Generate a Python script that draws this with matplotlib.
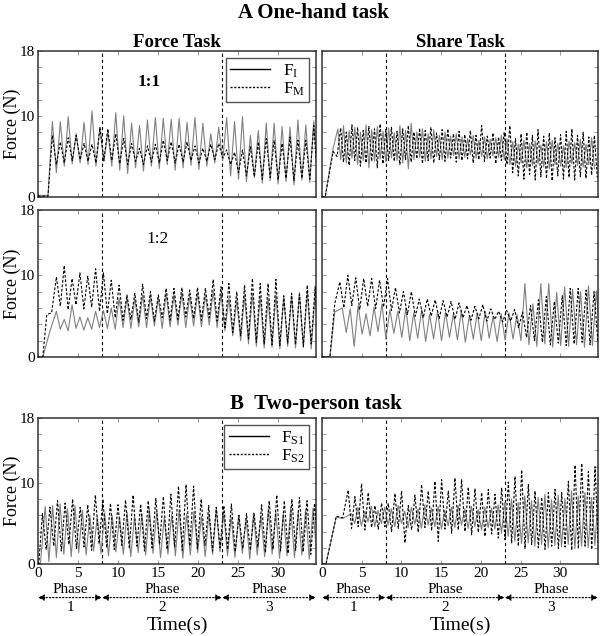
import numpy as np
import matplotlib
matplotlib.use("Agg")
import matplotlib.pyplot as plt
from matplotlib.lines import Line2D

plt.rcParams['font.family'] = ['Liberation Serif', 'DejaVu Serif']
plt.rcParams['mathtext.fontset'] = 'custom'
plt.rcParams['mathtext.rm'] = 'Liberation Serif'
plt.rcParams['mathtext.it'] = 'Liberation Serif:italic'

# ---------------- data ----------------
phase_bounds = [0, 8, 23, 34.75]
phase_labels = ["1", "2", "3"]
x_ticks = [0, 5, 10, 15, 20, 25, 30]
y_ticks = [0, 10, 18]

# Panel A, Force Task, 1:1
a_force_I_ramp_t = [0.0, 1.25]
a_force_I_ramp_v = [0.2, 0.2]
a_force_I_start, a_force_I_period = 1.8, 0.99
a_force_I_peaks = [9.3, 9.3, 9.9, 7.8, 9.2, 10.6, 8.6, 8.0, 10.4, 10.0, 9.1, 8.8, 9.5, 9.8, 9.7, 9.6, 9.7,
                   9.2, 9.8, 9.1, 7.8, 8.6, 9.8, 9.3, 9.9, 7.6, 8.2, 9.1, 9.1, 8.7, 8.6, 9.5, 8.9, 9.4]
a_force_I_troughs = [3.0, 3.8, 4.1, 4.2, 4.0, 3.8, 4.4, 3.8, 3.3, 2.9, 3.6, 3.2, 3.8, 3.5, 4.0, 3.3, 3.6,
                     3.9, 3.4, 3.8, 4.2, 4.5, 2.6, 2.2, 1.9, 2.4, 1.7, 2.0, 1.6, 1.9, 1.5, 2.1, 1.8, 2.0]
a_force_M_ramp_t = [0.0, 1.25]
a_force_M_ramp_v = [0.1, 0.1]
a_force_M_start, a_force_M_period = 1.8, 0.99
a_force_M_peaks = [7.6, 6.8, 7.3, 7.6, 6.6, 6.5, 8.6, 8.4, 7.8, 7.2, 6.6, 6.0, 6.3, 6.5, 7.0, 6.8, 6.5,
                   6.8, 6.3, 6.0, 6.5, 6.6, 5.8, 5.5, 5.8, 6.2, 6.8, 7.2, 7.0, 6.6, 7.4, 7.0, 7.0, 8.8]
a_force_M_troughs = [4.0, 4.2, 4.5, 4.6, 4.4, 4.2, 4.5, 4.5, 4.1, 4.0, 4.4, 4.0, 4.3, 4.2, 4.5, 4.2, 4.3,
                     4.5, 4.2, 4.4, 4.6, 4.8, 4.0, 3.0, 2.6, 2.5, 2.2, 2.4, 2.1, 2.3, 2.0, 2.3, 2.2, 2.2]

# Panel A, Share Task, 1:1
a_share_I_ramp_t = [0.0, 0.4, 1.4]
a_share_I_ramp_v = [0.0, 0.0, 6.0]
a_share_I_start, a_share_I_period = 2.0, 0.71
a_share_I_peaks = [8.4, 8.8, 8.2, 8.6, 8.0, 8.9, 8.3, 8.7, 8.1,
                   8.5, 7.9, 8.8, 8.2, 9.1, 8.0, 8.4, 7.8, 8.3, 7.6, 8.0, 7.5, 7.8, 7.4, 7.2, 7.6, 7.0,
                   7.4, 7.1, 7.3, 7.6,
                   7.2, 6.8, 6.5, 7.0, 6.6, 6.9, 6.4, 6.8, 7.0, 6.6, 6.3, 6.9, 6.7, 7.1, 6.5, 7.3]
a_share_I_troughs = [4.6, 4.2, 4.8, 4.0, 4.5, 3.6, 4.4, 4.7, 4.3,
                     4.8, 4.5, 4.2, 3.5, 4.6, 4.9, 4.4, 4.7, 5.0, 4.6, 4.8, 5.1, 4.7, 4.9, 5.2, 4.8,
                     5.0, 4.7, 5.1, 4.9, 4.6,
                     4.0, 3.8, 4.2, 3.6, 3.9, 4.1, 3.7, 3.5, 4.0, 3.8, 3.6, 4.1, 3.9, 3.7, 4.0, 3.5]
a_share_M_ramp_t = [0.0, 0.4, 1.4, 1.9]
a_share_M_ramp_v = [0.0, 0.0, 5.6, 5.0]
a_share_M_start, a_share_M_period = 2.35, 0.71
a_share_M_peaks = [8.5, 8.0, 8.9, 8.6, 8.2, 8.7, 8.4, 9.0, 8.3,
                   8.6, 8.1, 8.4, 8.8, 8.0, 8.5, 8.2, 8.6, 7.9, 8.3, 8.4, 7.8, 8.1, 7.7, 8.2, 7.6,
                   8.8, 7.5, 7.9, 7.4, 8.0,
                   8.8, 7.2, 7.8, 8.0, 7.6, 8.3, 7.5, 7.9, 7.3, 7.7, 8.1, 8.4, 7.6, 8.0, 7.4, 7.6]
a_share_M_troughs = [4.3, 3.9, 4.5, 3.8, 4.2, 4.4, 3.6, 4.1, 4.5,
                     4.4, 4.0, 4.6, 4.3, 4.7, 4.1, 4.5, 4.2, 4.6, 4.4, 4.8, 4.3, 4.5, 4.7, 4.2, 4.6,
                     4.4, 4.8, 4.1, 4.5, 4.0,
                     3.0, 2.6, 2.2, 2.8, 2.1, 2.5, 2.3, 2.0, 2.6, 2.2, 2.4, 2.1, 2.5, 2.3, 2.7, 2.4]

# Panel A, Force Task, 1:2
b_force_I_ramp_t = [0.0, 0.6, 1.5]
b_force_I_ramp_v = [0.0, 0.0, 3.2]
b_force_I_start, b_force_I_period = 2.3, 0.98
b_force_I_peaks = [5.6, 4.6, 6.4, 4.9, 4.8, 5.6, 5.7, 6.0, 7.2, 7.3, 7.1, 7.6, 7.4, 7.2, 7.8, 7.6, 7.9,
                   7.5, 7.8, 7.6, 8.1, 7.8, 7.2, 7.0, 7.6, 7.8, 7.4, 7.2, 7.6, 7.3, 7.5, 7.9, 8.0, 7.6]
b_force_I_troughs = [3.4, 3.2, 3.5, 3.3, 3.4, 3.6, 3.5, 3.4, 3.6, 3.5, 3.7, 3.6, 3.8, 3.5, 3.7, 3.9, 3.6,
                     3.8, 3.7, 3.9, 3.6, 3.2, 2.6, 2.0, 1.6, 1.3, 1.1, 1.2, 1.0, 1.3, 1.1, 1.2, 1.0, 1.4]
b_force_M_ramp_t = [0.0, 0.6, 1.1, 1.7]
b_force_M_ramp_v = [0.0, 0.0, 5.2, 5.4]
b_force_M_start, b_force_M_period = 2.3, 0.98
b_force_M_peaks = [9.8, 11.2, 9.6, 10.3, 9.9, 10.8, 10.3, 9.4, 8.8, 7.6, 7.8, 8.9, 8.0, 7.6, 8.4, 8.4, 8.5,
                   8.2, 8.5, 8.4, 9.5, 8.6, 9.0, 8.0, 8.8, 9.6, 9.0, 9.0, 9.5, 7.5, 7.8, 7.7, 8.8, 8.6]
b_force_M_troughs = [6.2, 5.8, 6.4, 5.9, 6.1, 5.6, 5.3, 4.8, 4.5, 4.6, 4.3, 4.7, 4.4, 4.8, 4.5, 4.6, 4.9,
                     4.7, 4.5, 4.8, 4.4, 3.6, 3.0, 2.6, 2.2, 1.8, 1.6, 1.5, 1.4, 1.7, 1.5, 1.3, 1.6, 1.5]

# Panel A, Share Task, 1:2
b_share_I_ramp_t = [0.0, 1.0, 1.6]
b_share_I_ramp_v = [0.0, 0.0, 5.5]
b_share_I_start, b_share_I_period = 2.55, 1.0
b_share_I_peaks = [6.0, 5.9, 6.3, 5.3, 6.1, 6.5, 5.8, 5.6, 6.0, 5.4, 5.8, 5.2, 5.6, 5.5, 5.3, 5.7, 5.1,
                   5.4, 5.6, 5.0, 5.3, 5.4, 5.2, 9.0, 6.5, 9.0, 9.0, 7.9, 8.6, 8.3, 8.0, 8.7, 8.1]
b_share_I_troughs = [3.0, 1.3, 2.8, 2.6, 3.1, 2.2, 2.9, 2.4, 2.0, 2.3, 1.9, 2.2, 2.0, 2.4, 2.1, 1.8, 2.2,
                     2.0, 2.3, 1.9, 2.1, 2.2, 2.0, 1.5, 1.3, 1.6, 1.2, 1.4, 1.3, 1.5, 1.2, 1.4, 1.6]
b_share_M_ramp_t = [0.0, 1.0, 1.6]
b_share_M_ramp_v = [0.0, 0.0, 6.5]
b_share_M_start, b_share_M_period = 2.25, 1.0
b_share_M_peaks = [9.2, 10.0, 9.7, 9.6, 9.6, 9.4, 9.6, 8.5, 8.0, 8.0, 7.1, 7.1, 7.0, 6.9, 6.8, 6.6, 6.3,
                   6.2, 6.4, 5.9, 5.6, 5.7, 5.8, 5.5, 6.3, 7.0, 7.4, 6.8, 7.5, 8.4, 8.4, 8.2, 8.0]
b_share_M_troughs = [6.0, 6.3, 5.8, 6.2, 5.9, 6.1, 5.7, 5.4, 5.2, 5.0, 4.8, 5.0, 4.7, 4.9, 4.6, 4.8, 4.5,
                     4.7, 4.4, 4.6, 4.3, 4.4, 3.6, 2.4, 2.0, 1.8, 1.5, 1.7, 1.4, 1.6, 1.8, 1.5, 1.7]

# Panel B, Force Task (two persons)
c_force_S1_ramp_t = [0.0, 0.3]
c_force_S1_ramp_v = [0.0, 0.0]
c_force_S1_start, c_force_S1_period = 0.9, 0.93
c_force_S1_peaks = [7.1, 7.2, 7.4, 6.8, 7.2, 6.6, 6.0, 5.8, 6.3, 6.0, 5.8, 6.4, 5.8, 6.2, 6.8, 6.5, 5.7,
                    6.1, 6.7, 6.2, 6.5, 5.9, 6.2, 6.8, 6.3, 5.8, 6.0, 5.6, 6.3, 6.0, 6.8, 6.4, 6.2, 7.0,
                    6.5, 6.7, 6.9]
c_force_S1_troughs = [0.3, 0.8, 1.2, 0.9, 1.4, 1.1, 1.6, 1.3, 1.0, 1.5, 1.2, 0.9, 1.4, 1.1, 1.3, 0.8, 1.2,
                      1.0, 0.7, 1.1, 1.4, 0.9, 1.2, 1.5, 1.0, 0.8, 1.3, 0.6, 1.1, 0.9, 1.2, 0.7, 1.0, 0.8,
                      1.1, 0.6, 0.9]
c_force_S2_ramp_t = [0.0, 0.1]
c_force_S2_ramp_v = [0.0, 0.0]
c_force_S2_start, c_force_S2_period = 0.55, 0.945
c_force_S2_peaks = [6.2, 7.0, 7.8, 7.5, 8.0, 7.0, 7.3, 8.5,
                    8.0, 7.5, 7.3, 7.9, 8.5, 7.4, 7.8, 8.1, 8.3, 8.6, 9.6, 9.8, 9.6, 8.0, 7.2, 7.0,
                    7.2, 7.4, 6.0, 6.2, 6.2, 7.3, 7.8, 8.5, 7.8, 8.0, 8.2, 7.8, 7.5]
c_force_S2_troughs = [1.8, 2.2, 1.6, 2.4, 1.9, 2.1, 1.7, 2.5, 2.0, 1.8, 2.3, 1.9, 2.2, 1.6, 2.0, 2.4, 1.8,
                      2.1, 1.7, 2.2, 1.9, 2.3, 1.6, 2.0, 1.8, 1.5, 1.9, 1.7, 2.1, 1.4, 1.8, 1.6, 1.3, 1.7,
                      1.5, 1.2, 1.6]

# Panel B, Share Task (two persons)
c_share_S1_ramp_t = [0.0, 0.5, 1.8, 2.6]
c_share_S1_ramp_v = [0.0, 0.0, 5.8, 5.6]
c_share_S1_start, c_share_S1_period = 3.7, 0.84
c_share_S1_peaks = [6.2, 7.0, 6.5, 7.1, 6.6, 7.0,
                    6.8, 7.2, 6.5, 7.0, 6.8, 7.3, 6.9, 7.1, 6.6, 7.0, 7.2, 6.8, 7.1, 6.7, 7.0, 6.9,
                    7.3, 7.6,
                    8.0, 7.6, 8.4, 7.8, 8.2, 8.6, 7.9, 8.5, 8.1, 9.0, 8.4, 8.8, 8.2, 8.6]
c_share_S1_troughs = [5.0, 4.7, 5.2, 4.6, 5.0, 4.8,
                      4.6, 5.0, 4.5, 4.9, 4.4, 4.8, 4.6, 4.3, 4.7, 4.5, 4.8, 4.4, 4.6, 4.2, 4.5, 4.3,
                      3.8, 3.4,
                      2.8, 2.5, 2.6, 2.2, 2.4, 2.0, 2.3, 2.1, 2.4, 1.9, 2.2, 2.0, 2.3, 2.1]
c_share_S2_ramp_t = [0.0, 0.5, 1.8, 2.6]
c_share_S2_ramp_v = [0.0, 0.0, 5.9, 5.7]
c_share_S2_start, c_share_S2_period = 3.3, 0.84
c_share_S2_peaks = [9.1, 8.3, 9.9, 8.8, 7.2, 7.5,
                    7.5, 8.7, 9.0, 7.2, 8.5, 9.8, 9.0, 10.2, 10.4, 9.0, 10.6, 10.4, 9.5, 9.3, 8.8,
                    9.2, 8.6, 9.4,
                    10.1, 10.8, 11.6, 9.8, 9.0, 8.2, 8.8, 9.2, 8.8, 10.2, 12.2, 12.4, 11.4, 12.0]
c_share_S2_troughs = [4.4, 4.6, 4.2, 4.5, 4.3, 4.6,
                      4.0, 4.4, 2.6, 4.2, 3.9, 4.5, 4.1, 2.8, 4.3, 3.8, 4.2, 4.0, 3.6, 3.9, 3.4, 3.7,
                      3.2, 3.0,
                      2.6, 2.2, 1.9, 2.4, 2.0, 1.8, 2.2, 1.9, 2.1, 1.7, 1.9, 2.2, 1.8, 2.0]


def trace(ramp_t, ramp_v, start, period, peaks, troughs):
    t = list(ramp_t)
    v = list(ramp_v)
    n = min(len(peaks), len(troughs))
    for k in range(n):
        t.append(start + k * period)
        v.append(peaks[k])
        t.append(start + (k + 0.5) * period)
        v.append(troughs[k])
    return np.array(t), np.array(v)


panels = [
    [(a_force_I_ramp_t, a_force_I_ramp_v, a_force_I_start, a_force_I_period, a_force_I_peaks, a_force_I_troughs),
     (a_force_M_ramp_t, a_force_M_ramp_v, a_force_M_start, a_force_M_period, a_force_M_peaks, a_force_M_troughs)],
    [(a_share_I_ramp_t, a_share_I_ramp_v, a_share_I_start, a_share_I_period, a_share_I_peaks, a_share_I_troughs),
     (a_share_M_ramp_t, a_share_M_ramp_v, a_share_M_start, a_share_M_period, a_share_M_peaks, a_share_M_troughs)],
    [(b_force_I_ramp_t, b_force_I_ramp_v, b_force_I_start, b_force_I_period, b_force_I_peaks, b_force_I_troughs),
     (b_force_M_ramp_t, b_force_M_ramp_v, b_force_M_start, b_force_M_period, b_force_M_peaks, b_force_M_troughs)],
    [(b_share_I_ramp_t, b_share_I_ramp_v, b_share_I_start, b_share_I_period, b_share_I_peaks, b_share_I_troughs),
     (b_share_M_ramp_t, b_share_M_ramp_v, b_share_M_start, b_share_M_period, b_share_M_peaks, b_share_M_troughs)],
    [(c_force_S1_ramp_t, c_force_S1_ramp_v, c_force_S1_start, c_force_S1_period, c_force_S1_peaks, c_force_S1_troughs),
     (c_force_S2_ramp_t, c_force_S2_ramp_v, c_force_S2_start, c_force_S2_period, c_force_S2_peaks, c_force_S2_troughs)],
    [(c_share_S1_ramp_t, c_share_S1_ramp_v, c_share_S1_start, c_share_S1_period, c_share_S1_peaks, c_share_S1_troughs),
     (c_share_S2_ramp_t, c_share_S2_ramp_v, c_share_S2_start, c_share_S2_period, c_share_S2_peaks, c_share_S2_troughs)],
]

# ---------------- layout ----------------
W, H = 600, 636
fig = plt.figure(figsize=(W / 100, H / 100), dpi=100)

col_x = [(38, 316), (322, 598)]
row_y = [(51, 197), (210, 357), (418, 564)]

solid_color = '#808080'
dash_style = (0, (2.4, 1.6))

axes = []
for r, (yt, yb) in enumerate(row_y):
    for c, (xl, xr) in enumerate(col_x):
        ax = fig.add_axes([xl / W, 1 - yb / H, (xr - xl) / W, (yb - yt) / H])
        axes.append((r, c, ax))

for idx, (r, c, ax) in enumerate(axes):
    s_solid, s_dash = panels[idx]
    t1, v1 = trace(*s_solid)
    t2, v2 = trace(*s_dash)
    ax.plot(t1, v1, color=solid_color, lw=0.8, zorder=2, solid_joinstyle='round')
    ax.plot(t2, v2, color='black', lw=0.8, ls=dash_style, zorder=3, dash_joinstyle='round')
    for xb in phase_bounds[1:3]:
        ax.axvline(xb, color='black', lw=0.8, ls=(0, (3, 2.5)), zorder=1)
    ax.set_xlim(phase_bounds[0], phase_bounds[-1])
    ax.set_ylim(0, 18)
    ax.set_xticks(x_ticks)
    ax.set_yticks(y_ticks)
    ax.set_yticks(np.arange(0, 19, 2), minor=True)
    ax.tick_params(which='both', direction='in', top=True, right=True, length=3,
                   width=0.6, color='#888888', labelsize=11, pad=2)
    for sp in ax.spines.values():
        sp.set_linewidth(1.1)
        sp.set_color('#333333')
    if c == 1:
        ax.set_yticklabels([])
    else:
        ax.set_ylabel('Force (N)', fontsize=13)
        ax.yaxis.set_label_coords(-0.062, 0.5)
    if r < 2:
        ax.set_xticklabels([])
    else:
        # phase annotations
        for i in range(3):
            x0, x1 = phase_bounds[i], phase_bounds[i + 1]
            ax.annotate('', xy=(x1, -0.23), xytext=(x0, -0.23),
                        xycoords=('data', 'axes fraction'), textcoords=('data', 'axes fraction'),
                        arrowprops=dict(arrowstyle='<|-|>', color='black', lw=0.9, ls=':',
                                        shrinkA=0, shrinkB=0, mutation_scale=9),
                        annotation_clip=False)
            xm = (x0 + x1) / 2
            ax.text(xm, -0.175, 'Phase', transform=ax.get_xaxis_transform(),
                    ha='center', va='center', fontsize=11)
            ax.text(xm, -0.30, phase_labels[i], transform=ax.get_xaxis_transform(),
                    ha='center', va='center', fontsize=11)
        ax.text(0.5, -0.42, 'Time(s)', transform=ax.transAxes, ha='center', va='center',
                fontsize=14)

ax_tl = axes[0][2]
ax_ml = axes[2][2]
ax_bl = axes[4][2]
ax_tr = axes[1][2]

ax_tl.text(0.40, 0.79, '1:1', transform=ax_tl.transAxes, ha='center', va='center',
           fontsize=12.5, fontweight='bold')
ax_ml.text(0.43, 0.80, '1:2', transform=ax_ml.transAxes, ha='center', va='center',
           fontsize=12.5)

ax_tl.set_title('Force Task', fontsize=13.5, fontweight='bold', pad=3)
ax_tr.set_title('Share Task', fontsize=13.5, fontweight='bold', pad=3)

h = [Line2D([], [], color='black', lw=1.0), Line2D([], [], color='black', lw=1.0, ls=(0, (1.5, 1.2)))]
leg_kw = dict(loc='upper right', fontsize=12.5, frameon=True, fancybox=False, edgecolor='#555555',
              framealpha=1, handlelength=2.3, borderaxespad=0.4, labelspacing=0.05, borderpad=0.25,
              handletextpad=0.7)
leg = ax_tl.legend(h, ['F$_{\\rm I}$', 'F$_{\\rm M}$'], **leg_kw)
leg.get_frame().set_linewidth(1.0)
leg2 = ax_bl.legend(h, ['F$_{\\rm S1}$', 'F$_{\\rm S2}$'], **leg_kw)
leg2.get_frame().set_linewidth(1.0)

fig.text(313 / W, 1 - 13 / H, 'A One-hand task', ha='center', va='center', fontsize=15,
         fontweight='bold')
fig.text(316 / W, 1 - 404 / H, 'B  Two-person task', ha='center', va='center', fontsize=15,
         fontweight='bold')

fig.savefig('out.png', dpi=100)
